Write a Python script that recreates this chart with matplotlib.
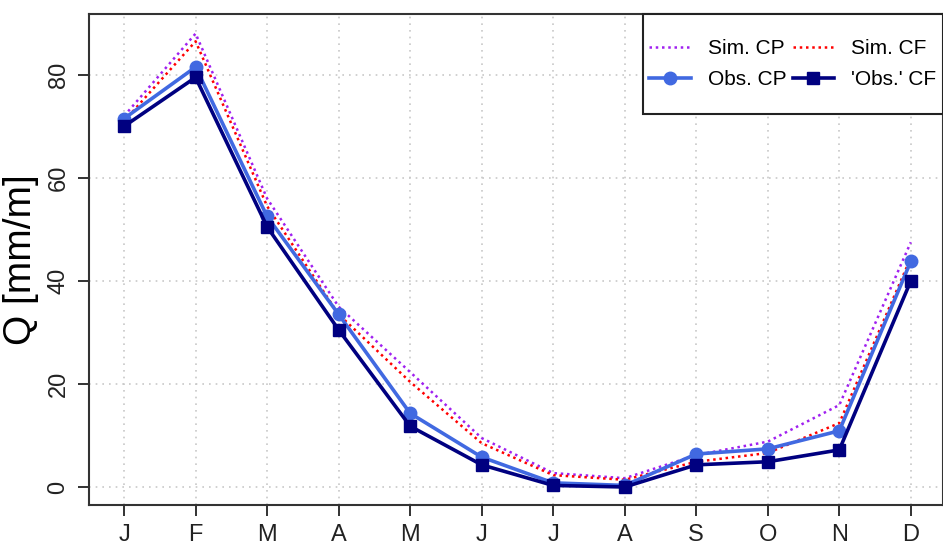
import numpy as np
import matplotlib
matplotlib.use("Agg")
import matplotlib.pyplot as plt
from matplotlib.patches import Rectangle

plt.rcParams['font.family'] = ['Liberation Sans', 'DejaVu Sans']

# monthly runoff
months = ['J', 'F', 'M', 'A', 'M', 'J', 'J', 'A', 'S', 'O', 'N', 'D']
sim_cp = [72, 88, 56, 35, 22.3, 9.5, 2.7, 1.7, 6.2, 8.8, 15.9, 47.5]
sim_cf = [71, 86.5, 54.5, 33.5, 20.4, 8.5, 2.3, 1.4, 4.9, 6.6, 12.4, 44.5]
obs_cp = [71.5, 81.5, 52.5, 33.5, 14.3, 5.8, 0.8, 0.3, 6.4, 7.4, 10.9, 43.8]
obs_cf = [70, 79.5, 50.5, 30.5, 11.8, 4.3, 0.3, 0.0, 4.3, 4.9, 7.2, 40]

x = np.arange(1, len(months) + 1)

fig = plt.figure(figsize=(9.43, 5.49), dpi=100)
ax = fig.add_axes([0.0944, 0.0801, 0.9056, 0.8944])

ax.grid(True, color='#c8c8c8', linestyle=(0, (1, 3)), linewidth=1.2)
ax.set_axisbelow(True)

l1, = ax.plot(x, sim_cp, color='#A020F0', linestyle=(0, (1, 1.5)), linewidth=1.8, label='Sim. CP')
l2, = ax.plot(x, sim_cf, color='red', linestyle=(0, (1, 1.5)), linewidth=1.8, label='Sim. CF')
l3, = ax.plot(x, obs_cp, color='#4169E1', linewidth=2.6, marker='o', markersize=9, label='Obs. CP')
l4, = ax.plot(x, obs_cf, color='#000080', linewidth=2.6, marker='s', markersize=8, label="'Obs.' CF")

ax.set_xlim(0.51, 12.45)
ax.set_ylim(-3.5, 91.8)
ax.set_xticks(x)
ax.set_xticklabels(months)
ax.set_yticks([0, 20, 40, 60, 80])
ax.tick_params(axis='both', direction='out', length=8, width=1.3, colors='#222222',
               labelsize=17, pad=6)
for lab in ax.get_yticklabels():
    lab.set_rotation(90)
    lab.set_va('center')
for s in ax.spines.values():
    s.set_color('#333333')
    s.set_linewidth(1.5)

ax.set_ylabel('Q [mm/m]', fontsize=28, labelpad=6)

# legend box like R's, drawn separately so its padding can be set freely
box = Rectangle((0.6487, 0.796), 0.3513, 0.204, transform=ax.transAxes,
                facecolor='white', edgecolor='#222222', linewidth=1.5, zorder=4,
                clip_on=False)
ax.add_patch(box)
leg = ax.legend(handles=[l1, l3, l2, l4], ncol=2, loc='center',
                bbox_to_anchor=(0.824, 0.898), fontsize=15, frameon=False,
                handlelength=2.0, columnspacing=0.3, borderpad=0, handletextpad=0.8,
                labelspacing=0.6)
leg.set_zorder(5)

fig.savefig('out.png', dpi=100)
